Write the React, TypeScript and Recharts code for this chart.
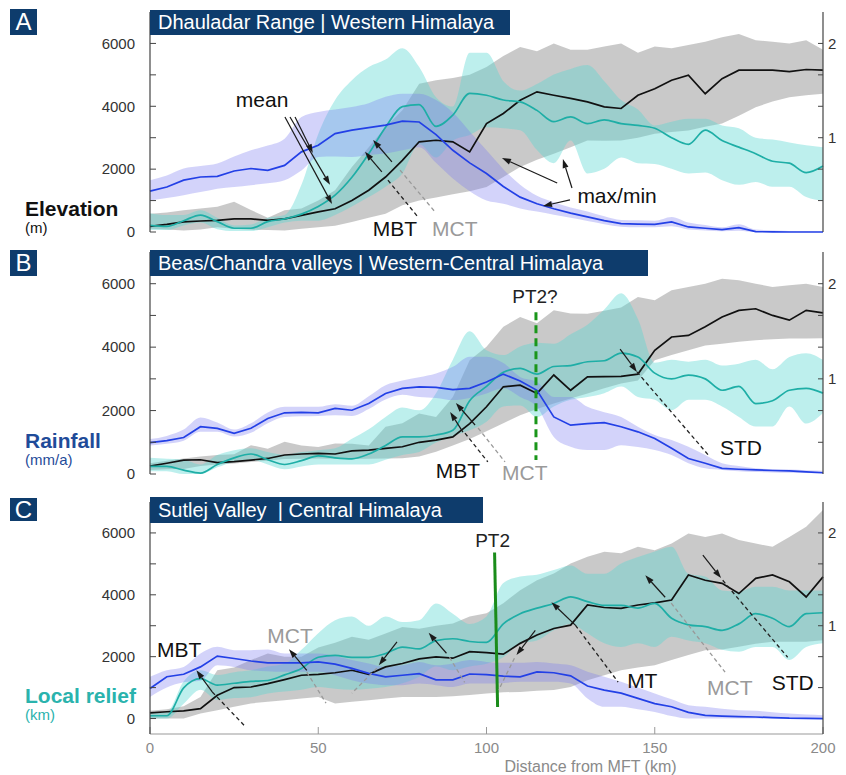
import { ComposedChart, Area, Line, XAxis, YAxis, ReferenceLine, ReferenceDot } from "recharts";

const FONT = 'Arial, "Liberation Sans", Helvetica, sans-serif';

// distance from MFT (km)
const km = [0, 5, 10, 15, 20, 25, 30, 35, 40, 45, 50, 55, 60, 65, 70, 75, 80, 85, 90, 95, 100, 105, 110, 115, 120, 125, 130, 135, 140, 145, 150, 155, 160, 165, 170, 175, 180, 185, 190, 195, 200];

// A: Dhauladar Range
const aElev = [180, 240, 320, 350, 370, 420, 420, 370, 420, 530, 640, 740, 1000, 1330, 1750, 2280, 2870, 2920, 2870, 2550, 3450, 3770, 4190, 4460, 4350, 4250, 4140, 3980, 3930, 4350, 4560, 4830, 4990, 4400, 4880, 5150, 5150, 5150, 5100, 5170, 5150];
const aElevLo = [100, 80, 50, 80, 150, 100, 70, 60, 50, 100, 150, 200, 320, 450, 580, 850, 1000, 1100, 1200, 1300, 1430, 1750, 2070, 2300, 2490, 2700, 2910, 2900, 2910, 3000, 3130, 3180, 3230, 3350, 3450, 3700, 3970, 4150, 4290, 4350, 4400];
const aElevHi = [580, 620, 690, 750, 800, 960, 700, 450, 690, 750, 1000, 1330, 2070, 2700, 3340, 3870, 4720, 4830, 4900, 5000, 5250, 5600, 5890, 5750, 6000, 5800, 5800, 5900, 6000, 5700, 5900, 5850, 5950, 6050, 6200, 6300, 6100, 6050, 6000, 6100, 5800];
const aRain = [1300, 1430, 1650, 1750, 1770, 1940, 2020, 1960, 2120, 2550, 2760, 3130, 3240, 3320, 3400, 3530, 3500, 3100, 2600, 2200, 1860, 1450, 1110, 900, 740, 600, 480, 360, 265, 250, 245, 320, 160, 120, 75, 140, 10, 5, 0, 0, 0];
const aRainLo = [1000, 1080, 1170, 1270, 1380, 1430, 1490, 1550, 1650, 1960, 2390, 2400, 2390, 2450, 2500, 2600, 2700, 2200, 1700, 1300, 1000, 900, 750, 650, 550, 450, 350, 250, 170, 150, 150, 180, 80, 50, 20, 40, 0, 0, 0, 0, 0];
const aRainHi = [1650, 1800, 2020, 2100, 2180, 2400, 2600, 2750, 2970, 3660, 3820, 3900, 3980, 4100, 4300, 4400, 4400, 4200, 3800, 3200, 2600, 2000, 1500, 1150, 950, 780, 650, 500, 380, 370, 360, 480, 300, 220, 150, 250, 80, 50, 30, 20, 10];
const aRelief = [0.07, 0.06, 0.12, 0.18, 0.11, 0.04, 0.04, 0.11, 0.14, 0.19, 0.27, 0.39, 0.58, 0.83, 1.11, 1.33, 1.35, 1.12, 1.24, 1.47, 1.45, 1.4, 1.38, 1.29, 1.17, 1.22, 1.15, 1.19, 1.15, 1.13, 1.1, 1.0, 0.93, 1.08, 0.97, 0.9, 0.83, 0.75, 0.73, 0.63, 0.7];
const aReliefLo = [0.02, 0.02, 0.07, 0.1, 0.03, 0.01, 0.01, 0.05, 0.1, 0.12, 0.12, 0.18, 0.27, 0.37, 0.48, 0.62, 0.93, 0.79, 0.97, 1.03, 1.11, 1.1, 1.08, 0.87, 0.73, 0.97, 0.62, 0.67, 0.79, 0.73, 0.72, 0.67, 0.62, 0.63, 0.55, 0.5, 0.53, 0.48, 0.48, 0.37, 0.33];
const aReliefHi = [0.2, 0.18, 0.18, 0.23, 0.15, 0.07, 0.08, 0.15, 0.18, 0.5, 1.04, 1.4, 1.61, 1.75, 1.83, 1.95, 1.75, 1.43, 1.33, 1.9, 1.9, 1.6, 1.5, 1.57, 1.67, 1.73, 1.77, 1.6, 1.4, 1.3, 1.13, 1.17, 1.2, 1.2, 1.13, 1.1, 1.0, 0.98, 0.95, 0.92, 0.9];

// B: Beas/Chandra valleys
const bElev = [250, 340, 440, 450, 360, 390, 440, 490, 600, 630, 650, 630, 730, 750, 810, 860, 1000, 1070, 1170, 1590, 2120, 2750, 2800, 2540, 3120, 2640, 3060, 3070, 3080, 3150, 3900, 4320, 4370, 4640, 4950, 5160, 5210, 5000, 4850, 5160, 5080];
const bElevLo = [130, 150, 160, 250, 300, 330, 380, 420, 470, 480, 490, 480, 470, 480, 490, 500, 550, 700, 900, 1100, 1350, 1600, 1850, 2050, 2220, 2380, 2540, 2700, 2850, 2950, 3590, 3750, 3900, 4050, 4110, 4170, 4220, 4250, 4270, 4270, 4280];
const bElevHi = [340, 420, 490, 550, 600, 620, 910, 800, 1020, 900, 850, 960, 950, 900, 1490, 1600, 1910, 1800, 2430, 3590, 4010, 4640, 4950, 4750, 5160, 5060, 5050, 5150, 5250, 5580, 5480, 5790, 5900, 6000, 6160, 6110, 6000, 5900, 5950, 6000, 5900];
const bRain = [990, 1050, 1150, 1490, 1440, 1280, 1440, 1750, 1930, 1940, 1930, 2070, 2010, 2220, 2540, 2700, 2750, 2730, 2660, 2700, 2900, 3150, 2930, 2640, 1800, 1540, 1590, 1620, 1490, 1330, 1120, 810, 490, 340, 180, 150, 130, 110, 100, 70, 40];
const bRainLo = [900, 950, 1050, 1330, 1330, 1180, 1300, 1600, 1800, 1820, 1830, 1850, 1830, 2050, 2350, 2500, 2430, 2400, 2330, 2400, 2540, 2700, 2430, 2120, 1170, 860, 760, 760, 910, 850, 760, 600, 340, 180, 130, 90, 60, 50, 40, 30, 20];
const bRainHi = [1100, 1200, 1400, 1780, 1620, 1400, 1600, 1940, 2120, 2120, 2120, 2200, 2150, 2450, 2800, 2950, 3050, 3170, 3380, 3700, 3700, 3500, 3060, 2900, 2430, 2430, 2120, 1950, 1800, 1490, 1230, 1070, 860, 600, 340, 250, 180, 150, 140, 120, 100];
const bRelief = [0.08, 0.08, 0.04, 0.01, 0.1, 0.17, 0.21, 0.15, 0.1, 0.14, 0.19, 0.17, 0.16, 0.21, 0.3, 0.39, 0.39, 0.41, 0.46, 0.77, 0.92, 1.07, 1.11, 1.05, 1.13, 1.14, 1.18, 1.19, 1.27, 1.23, 1.06, 1.0, 1.04, 1.0, 0.88, 0.92, 0.74, 0.77, 0.88, 0.9, 0.85];
const bReliefLo = [0.03, 0.03, 0, 0, 0.07, 0.13, 0.15, 0.1, 0.05, 0.08, 0.1, 0.1, 0.1, 0.1, 0.15, 0.2, 0.23, 0.33, 0.4, 0.46, 0.55, 0.71, 0.72, 0.6, 0.71, 0.78, 0.81, 0.85, 0.92, 0.81, 0.78, 0.67, 0.78, 0.78, 0.71, 0.6, 0.5, 0.5, 0.71, 0.53, 0.64];
const bReliefHi = [0.17, 0.16, 0.15, 0.1, 0.2, 0.25, 0.27, 0.23, 0.2, 0.23, 0.25, 0.27, 0.37, 0.47, 0.6, 0.7, 0.67, 0.85, 1.2, 1.5, 1.3, 1.25, 1.34, 1.38, 1.37, 1.47, 1.57, 1.73, 1.9, 1.63, 1.17, 1.2, 1.18, 1.2, 1.14, 1.16, 1.2, 1.1, 1.23, 1.27, 1.2];

// C: Sutlej Valley
const cElev = [180, 220, 250, 320, 750, 1000, 1020, 1130, 1260, 1400, 1430, 1480, 1560, 1430, 1670, 1780, 1930, 1990, 1950, 2160, 2130, 2080, 2430, 2700, 2910, 3020, 3670, 3590, 3560, 3670, 3740, 3830, 4640, 4470, 4370, 4040, 4530, 4640, 4420, 3930, 4580];
const cElevLo = [0, 0, 0, 160, 270, 380, 490, 540, 590, 650, 700, 490, 540, 590, 650, 700, 700, 700, 720, 760, 810, 850, 860, 900, 920, 1020, 1240, 1400, 1560, 1650, 1720, 1890, 2050, 2210, 2230, 2320, 2420, 2480, 2480, 2480, 2530];
const cElevHi = [250, 300, 400, 700, 1560, 1650, 1890, 2100, 2000, 2000, 2300, 2450, 2640, 2550, 2750, 2960, 2900, 3000, 3070, 3300, 3400, 3730, 4150, 4470, 4690, 5010, 5230, 5390, 5340, 5550, 5440, 5660, 5980, 5870, 5980, 5770, 5660, 5550, 5870, 6200, 6740];
const cRain = [970, 1350, 1430, 1670, 2020, 1940, 1860, 1800, 1800, 1800, 1830, 1760, 1620, 1460, 1350, 1400, 1450, 1250, 1250, 1440, 1420, 1370, 1350, 1510, 1480, 1380, 1050, 920, 820, 650, 480, 380, 200, 100, 75, 60, 50, 30, 10, 5, 0];
const cRainLo = [700, 1000, 1170, 1220, 1720, 1670, 1560, 1530, 1510, 1510, 1510, 1400, 1240, 1130, 1080, 1080, 1130, 1080, 1020, 1130, 1130, 1150, 1190, 1190, 1190, 1130, 650, 380, 380, 300, 215, 80, 0, 0, 0, 0, 0, 0, 0, 0, 0];
const cRainHi = [1350, 1560, 1670, 2100, 2320, 2210, 2210, 2230, 2100, 2100, 2100, 2020, 1890, 1780, 1670, 1720, 1830, 1720, 1780, 1890, 1830, 1800, 1800, 1830, 1780, 1720, 1510, 1350, 1190, 1000, 810, 620, 430, 380, 320, 270, 250, 200, 160, 130, 110];
const cRelief = [0.03, 0.03, 0.33, 0.43, 0.36, 0.38, 0.4, 0.41, 0.47, 0.54, 0.66, 0.68, 0.66, 0.66, 0.7, 0.77, 0.75, 0.84, 0.86, 0.83, 0.82, 1.02, 1.13, 1.19, 1.24, 1.31, 1.26, 1.22, 1.22, 1.19, 1.24, 1.08, 1.01, 0.99, 0.95, 1.02, 1.13, 1.08, 0.99, 1.13, 1.14];
const cReliefLo = [0, 0, 0.16, 0.31, 0.2, 0.22, 0.23, 0.27, 0.29, 0.31, 0.34, 0.32, 0.31, 0.32, 0.34, 0.38, 0.45, 0.56, 0.52, 0.56, 0.59, 0.66, 0.81, 0.84, 0.95, 1.02, 0.92, 0.81, 0.77, 0.81, 0.77, 0.88, 0.84, 0.81, 0.74, 0.72, 0.77, 0.77, 0.63, 0.77, 0.81];
const cReliefHi = [0.06, 0.07, 0.4, 0.52, 0.47, 0.5, 0.52, 0.56, 0.59, 0.74, 0.92, 1.06, 1.1, 1.0, 1.1, 1.04, 1.06, 1.24, 1.13, 1.02, 1.1, 1.46, 1.53, 1.55, 1.6, 1.65, 1.56, 1.56, 1.67, 1.74, 1.8, 1.85, 1.56, 1.53, 1.38, 1.37, 1.42, 1.42, 1.38, 1.38, 1.38];

const elevTicks = [0, 1000, 2000, 3000, 4000, 5000, 6000];
const reliefTicks = [1 / 3, 2 / 3, 1, 4 / 3, 5 / 3, 2];
const distTicks = [0, 50, 100, 150, 200];

function buildRows(e: number[], eLo: number[], eHi: number[], r: number[], rLo: number[], rHi: number[], l: number[], lLo: number[], lHi: number[]) {
  return km.map((k, i) => ({
    km: k,
    elev: e[i],
    elevR: [eLo[i], eHi[i]],
    rain: r[i],
    rainR: [rLo[i], rHi[i]],
    rel: l[i],
    relR: [lLo[i], lHi[i]],
  }));
}

const rowsA = buildRows(aElev, aElevLo, aElevHi, aRain, aRainLo, aRainHi, aRelief, aReliefLo, aReliefHi);
const rowsB = buildRows(bElev, bElevLo, bElevHi, bRain, bRainLo, bRainHi, bRelief, bReliefLo, bReliefHi);
const rowsC = buildRows(cElev, cElevLo, cElevHi, cRain, cRainLo, cRainHi, cRelief, cReliefLo, cReliefHi);

function arrow(key: string, x1: number, y1: number, x2: number, y2: number, color = "#1a1a1a") {
  return (
    <ReferenceLine
      key={key}
      yAxisId="L"
      ifOverflow="visible"
      segment={[{ x: x1, y: y1 }, { x: x2, y: y2 }]}
      shape={(p: any) => {
        const ang = Math.atan2(p.y2 - p.y1, p.x2 - p.x1);
        const bx = p.x2 - 9 * Math.cos(ang);
        const by = p.y2 - 9 * Math.sin(ang);
        const px = -Math.sin(ang) * 3;
        const py = Math.cos(ang) * 3;
        return (
          <g>
            <line x1={p.x1} y1={p.y1} x2={bx} y2={by} stroke={color} strokeWidth={1.2} />
            <polygon points={`${p.x2},${p.y2} ${bx + px},${by + py} ${bx - px},${by - py}`} fill={color} />
          </g>
        );
      }}
    />
  );
}

function dashed(key: string, x1: number, y1: number, x2: number, y2: number, color = "#222", width = 1.3, dash = "4 3") {
  return (
    <ReferenceLine
      key={key}
      yAxisId="L"
      ifOverflow="visible"
      segment={[{ x: x1, y: y1 }, { x: x2, y: y2 }]}
      stroke={color}
      strokeWidth={width}
      strokeDasharray={dash}
    />
  );
}

function note(key: string, x: number, y: number, text: string, color = "#111", size = 21) {
  return (
    <ReferenceDot
      key={key}
      yAxisId="L"
      x={x}
      y={y}
      r={0}
      ifOverflow="visible"
      shape={(p: any) => (
        <text x={p.cx} y={p.cy} textAnchor="middle" fill={color} fontSize={size} fontFamily={FONT}>
          {text}
        </text>
      )}
    />
  );
}

const GREY_TXT = "#9a9a9a";

const notesA = [
  note("mean", 33.3, 3980, "mean"),
  arrow("m1", 40.1, 3660, 54.1, 890),
  arrow("m2", 41.6, 3660, 53.5, 1500),
  arrow("m3", 43.1, 3660, 48.4, 2510),
  arrow("a1", 68.9, 1910, 63.9, 2550),
  arrow("a2", 71.9, 2230, 66.3, 2930),
  dashed("d1", 70.7, 1650, 79.6, 480),
  dashed("d2", 74.3, 1970, 84.7, 640, "#999"),
  note("mbt", 72.8, -130, "MBT"),
  note("mct", 90.6, -130, "MCT", GREY_TXT),
  note("mm", 138.8, 920, "max/min"),
  arrow("x1", 121, 1560, 104.6, 2355),
  arrow("x2", 125.4, 1400, 122.7, 2320),
  arrow("x3", 124.8, 1020, 116.8, 830),
];

const notesB = [
  dashed("pt", 114.7, 5100, 114.7, 440, "#1a961a", 3, "8 5"),
  note("pt2", 114.4, 5390, "PT2?", "#222", 19),
  arrow("b1", 93.0, 1320, 89.2, 1955),
  arrow("b2", 96.6, 1545, 90.9, 2240),
  dashed("bd1", 93.6, 1290, 100.4, 380),
  dashed("bd2", 97.5, 1450, 105.5, 380, "#999"),
  note("mbt", 91.5, -130, "MBT"),
  note("mct", 111.4, -190, "MCT", GREY_TXT),
  arrow("s1", 139.7, 3940, 144.7, 3220),
  dashed("sd", 144.7, 3220, 166.4, 540),
  note("std", 175.6, 600, "STD"),
];

const notesC = [
  dashed("pt", 102.4, 5370, 103.3, 370, "#1a8c1a", 3, "none"),
  note("pt2", 101.8, 5540, "PT2", "#222", 19),
  note("mbt", 8.7, 1980, "MBT"),
  arrow("c1", 18.5, 860, 13.8, 1560),
  dashed("cd1", 18.5, 860, 28.5, -280),
  note("mct1", 41.6, 2430, "MCT", GREY_TXT),
  arrow("c2", 46.6, 1560, 41.3, 2240),
  dashed("cd2", 46.6, 1500, 52.3, 500, "#999"),
  arrow("c3", 73.4, 2480, 68.0, 1720),
  dashed("cd3", 67.4, 1630, 60.0, 820, "#999"),
  arrow("c4", 88.1, 2110, 82.8, 2770),
  dashed("cd4", 89.0, 1980, 93.5, 1170, "#999"),
  arrow("c5", 114.5, 2850, 108.9, 2050),
  dashed("cd5", 108.3, 1950, 103.6, 920, "#999"),
  arrow("c6", 126.4, 3020, 119.3, 3760),
  dashed("cd6", 126.4, 3020, 139.1, 1180),
  note("mt", 146.3, 980, "MT"),
  arrow("c7", 153.1, 3920, 147.2, 4630),
  dashed("cd7", 154.9, 3730, 170.9, 1500, "#999"),
  note("mct2", 172.3, 760, "MCT", GREY_TXT),
  arrow("c8", 164.3, 5280, 169.7, 4540),
  dashed("cd8", 170.2, 4470, 189.5, 1980),
  note("std", 191.0, 920, "STD"),
];

function Panel({ rows, top, height, mTop, yMin, rightW, showX, notes }: any) {
  const tickStyle = { fill: "#333", fontSize: 15, fontFamily: FONT };
  return (
    <div style={{ position: "absolute", left: 0, top, width: 846, height }}>
      <ComposedChart width={846} height={height} data={rows} margin={{ top: mTop, right: 23 - rightW, bottom: showX ? 0 : 12, left: 90 }}>
        <XAxis
          dataKey="km"
          type="number"
          domain={[0, 200]}
          ticks={distTicks}
          hide={!showX}
          height={41}
          tickSize={-7}
          tickMargin={15}
          axisLine={{ stroke: "#999" }}
          tickLine={{ stroke: "#999" }}
          tick={{ fill: "#8a8a8a", fontSize: 15, fontFamily: FONT }}
          label={{ value: "Distance from MFT (km)", position: "insideBottom", offset: 3, dx: 104, fill: "#8a8a8a", fontSize: 16, fontFamily: FONT }}
        />
        <YAxis
          yAxisId="L"
          domain={[yMin, 7000]}
          ticks={elevTicks}
          width={60}
          tickSize={-6}
          tickMargin={21}
          axisLine={{ stroke: "#444", strokeWidth: 1.2 }}
          tickLine={{ stroke: "#444" }}
          tick={tickStyle}
          tickFormatter={(v: number) => (v % 2000 === 0 ? String(v) : "")}
          interval={0}
        />
        <YAxis
          yAxisId="R"
          orientation="right"
          domain={[yMin / 3000, 7 / 3]}
          ticks={reliefTicks}
          width={rightW}
          tickSize={-5}
          tickMargin={10}
          axisLine={{ stroke: "#444", strokeWidth: 1.2 }}
          tickLine={{ stroke: "#444" }}
          tick={tickStyle}
          tickFormatter={(v: number) => (Math.abs(v - Math.round(v)) < 1e-6 ? String(Math.round(v)) : "")}
          interval={0}
        />
        <Area yAxisId="L" dataKey="elevR" type="linear" fill="#c3c3c3" fillOpacity={0.9} stroke="none" isAnimationActive={false} />
        <Area yAxisId="R" dataKey="relR" type="monotone" fill="#5ad6d2" fillOpacity={0.4} stroke="none" isAnimationActive={false} />
        <Area yAxisId="L" dataKey="rainR" type="monotone" fill="#7a7af0" fillOpacity={0.33} stroke="none" isAnimationActive={false} />
        <Line yAxisId="L" dataKey="elev" type="linear" stroke="#111" strokeWidth={1.7} dot={false} isAnimationActive={false} />
        <Line yAxisId="R" dataKey="rel" type="monotone" stroke="#1eaea6" strokeWidth={1.7} dot={false} isAnimationActive={false} />
        <Line yAxisId="L" dataKey="rain" type="linear" stroke="#2340e6" strokeWidth={1.7} dot={false} isAnimationActive={false} />
        {notes}
      </ComposedChart>
    </div>
  );
}

const NAVY = "#0e3c6c";

function Box({ left, top, width, height, text, size }: any) {
  return (
    <div
      style={{
        position: "absolute",
        left,
        top,
        width,
        height,
        background: NAVY,
        color: "#fff",
        fontFamily: FONT,
        fontSize: size,
        lineHeight: `${height}px`,
        whiteSpace: "pre",
        paddingLeft: size > 21 ? 0 : 8,
        boxSizing: "border-box",
        textAlign: size > 21 ? "center" : "left",
      }}
    >
      {text}
    </div>
  );
}

function SideLabel({ top, text, sub, color }: any) {
  return (
    <>
      <div style={{ position: "absolute", left: 25, top, fontFamily: FONT, fontSize: 21, fontWeight: "bold", lineHeight: "21px", color }}>{text}</div>
      <div style={{ position: "absolute", left: 25, top: top + 22, fontFamily: FONT, fontSize: 15, lineHeight: "15px", color }}>{sub}</div>
    </>
  );
}

export default function App() {
  return (
    <div style={{ position: "absolute", left: 0, top: 0, width: 846, height: 775, background: "#fff", overflow: "hidden" }}>
      <Panel rows={rowsA} top={0} height={244} mTop={12} yMin={0} rightW={22} showX={false} notes={notesA} />
      <Panel rows={rowsB} top={245} height={241} mTop={7} yMin={0} rightW={22} showX={false} notes={notesB} />
      <Panel rows={rowsC} top={485} height={290} mTop={17} yMin={-500} rightW={20} showX={true} notes={notesC} />

      <Box left={10} top={9} width={27} height={26} text="A" size={24} />
      <Box left={10} top={250} width={27} height={26} text="B" size={24} />
      <Box left={10} top={498} width={27} height={23} text="C" size={24} />
      <Box left={150} top={10} width={360} height={25} text="Dhauladar Range | Western Himalaya" size={20} />
      <Box left={150} top={250} width={498} height={26} text="Beas/Chandra valleys | Western-Central Himalaya" size={20} />
      <Box left={150} top={497} width={333} height={26} text="Sutlej Valley  | Central Himalaya" size={20} />

      <SideLabel top={198} text="Elevation" sub="(m)" color="#111" />
      <SideLabel top={430} text="Rainfall" sub="(mm/a)" color="#1f4b99" />
      <SideLabel top={685} text="Local relief" sub="(km)" color="#2ab3ad" />
    </div>
  );
}
